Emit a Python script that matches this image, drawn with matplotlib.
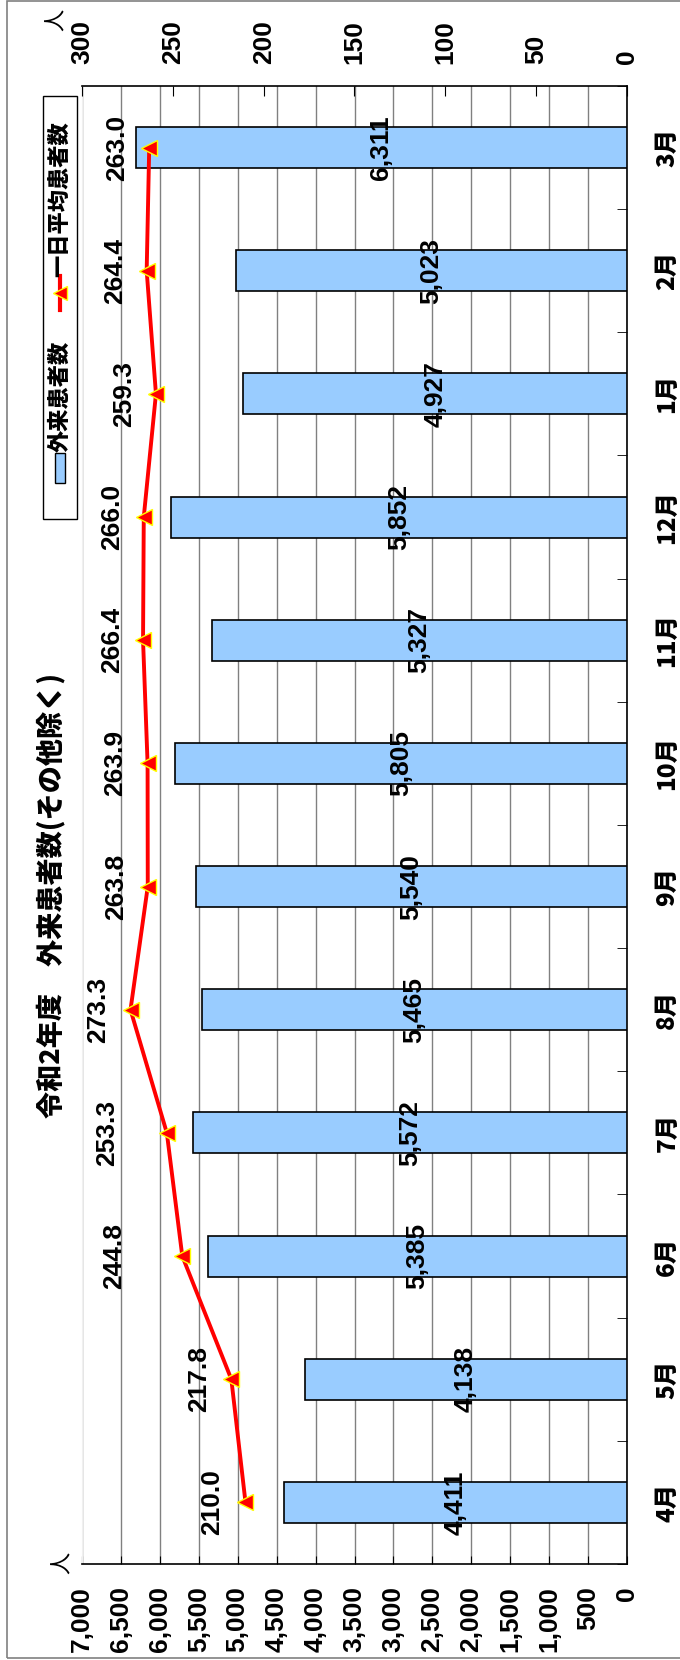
import numpy as np
import matplotlib
matplotlib.use('Agg')
from matplotlib import pyplot as plt
from matplotlib.patches import Rectangle
from matplotlib.lines import Line2D
from matplotlib.ticker import MultipleLocator, FuncFormatter

months = ['4月', '5月', '6月', '7月', '8月', '9月', '10月', '11月', '12月', '1月', '2月', '3月']
outpatients = [4411, 4138, 5385, 5572, 5465, 5540, 5805, 5327, 5852, 4927, 5023, 6311]
daily_avg = [210.0, 217.8, 244.8, 253.3, 273.3, 263.8, 263.9, 266.4, 266.0, 259.3, 264.4, 263.0]

title = '令和2年度　外来患者数(その他除く)'
bar_name = '外来患者数'
line_name = '一日平均患者数'

W, H = 680, 1660
JP = ['Noto Sans CJK JP', 'DejaVu Sans']
NUM = ['Liberation Sans Narrow', 'Liberation Sans', 'DejaVu Sans']
NUM_SIZE = 19

# label offsets (px, to the left of each marker)
lab_off = [33, 32, 68, 60, 32, 32, 32, 31, 32, 32, 32, 32]


def px(x, y):
    return x / W, 1 - y / H


fig = plt.figure(figsize=(W / 100, H / 100), dpi=100)
l, b = px(82, 1564)
r, t = px(627, 86)
ax = fig.add_axes([l, b, r - l, t - b])

pos = np.arange(len(months))
ax.barh(pos, outpatients, height=0.333, color='#99CCFF', edgecolor='black', lw=1.2, zorder=3)
ax.set_xlim(7000, 0)
ax.set_ylim(-0.5, 11.5)

ax.xaxis.set_major_locator(MultipleLocator(500))
ax.xaxis.set_major_formatter(FuncFormatter(lambda v, p: f'{int(v):,}'))
ax.tick_params(axis='x', direction='in', length=6, pad=16, labelrotation=90)
for lab in ax.get_xticklabels():
    lab.set_family(NUM)
    lab.set_weight('bold')
    lab.set_size(NUM_SIZE)
ax.grid(axis='x', color='#808080', lw=1.0, zorder=0)
ax.set_axisbelow(True)
ax.get_xgridlines()[-1].set_color('#f0f0f0')

ax.yaxis.tick_right()
ax.set_yticks(pos)
ax.set_yticklabels(months)
ax.set_yticks(np.arange(-0.5, 12, 1), minor=True)
ax.tick_params(axis='y', which='major', length=0, pad=20, labelrotation=90)
ax.tick_params(axis='y', which='minor', direction='in', length=7, right=True, left=False)
for lab in ax.get_yticklabels():
    lab.set_family(JP)
    lab.set_weight('heavy')
    lab.set_size(17.5)
    lab.set_va('center')

ax.spines['top'].set_visible(False)
ax.spines['left'].set_color('#f0f0f0')
ax.spines['bottom'].set_lw(1.2)
ax.spines['right'].set_lw(1.2)

for v, p in zip(outpatients, pos):
    ax.text(v / 2, p, f'{v:,}', rotation=90, ha='center', va='center',
            family=NUM, weight='bold', size=NUM_SIZE, zorder=5)

ax2 = ax.twiny()
ax2.plot(daily_avg, pos, color='red', lw=2.8, marker='<', ms=12,
         mfc='red', mec='yellow', mew=1.0, zorder=6)
ax2.set_xlim(300, 0)
ax2.xaxis.set_major_locator(MultipleLocator(50))
ax2.tick_params(axis='x', direction='in', length=7, pad=16, labelrotation=90)
for lab in ax2.get_xticklabels():
    lab.set_family(NUM)
    lab.set_weight('bold')
    lab.set_size(NUM_SIZE)
for s in ['left', 'right', 'bottom']:
    ax2.spines[s].set_visible(False)
ax2.spines['top'].set_lw(1.2)

for v, p, o in zip(daily_avg, pos, lab_off):
    ax2.annotate(f'{v:.1f}', (v, p), xytext=(-o * 0.72, 0), textcoords='offset points',
                 rotation=90, ha='center', va='center',
                 family=NUM, weight='bold', size=NUM_SIZE, zorder=7)

# unit labels
fig.text(*px(62, 1563), '人', rotation=90, ha='center', va='center', family=JP, size=16)
fig.text(*px(56, 20), '人', rotation=90, ha='center', va='center', family=JP, size=16)

# title
fig.text(*px(51, 895), title, rotation=90, ha='center', va='center',
         family=JP, weight='heavy', size=19.5)

# legend box drawn by hand (rotated)
x0, y0 = px(43, 519)
x1, y1 = px(77, 96)
fig.add_artist(Rectangle((x0, y0), x1 - x0, y1 - y0, transform=fig.transFigure,
                         fill=False, ec='black', lw=1.0))
a0, b0 = px(55, 483)
a1, b1 = px(65, 453)
fig.add_artist(Rectangle((a0, b0), a1 - a0, b1 - b0, transform=fig.transFigure,
                         fc='#99CCFF', ec='black', lw=1.0))
fig.text(*px(60, 396), bar_name, rotation=90, ha='center', va='center',
         family=JP, weight='heavy', size=16)
lx, ly0 = px(60, 310)
_, ly1 = px(60, 276)
fig.add_artist(Line2D([lx, lx], [ly0, ly1], transform=fig.transFigure, color='red', lw=3))
fig.add_artist(Line2D([lx], [(ly0 + ly1) / 2], transform=fig.transFigure, marker='<', ms=10,
                      mfc='red', mec='yellow', mew=1.0))
fig.text(*px(60, 199), line_name, rotation=90, ha='center', va='center',
         family=JP, weight='heavy', size=16)

# outer frame
f0, g0 = px(7, 1658)
f1, g1 = px(700, 1)
fig.add_artist(Rectangle((f0, g0), f1 - f0, g1 - g0, transform=fig.transFigure,
                         fill=False, ec='#808080', lw=1.2))

fig.savefig('out.png', dpi=100)
